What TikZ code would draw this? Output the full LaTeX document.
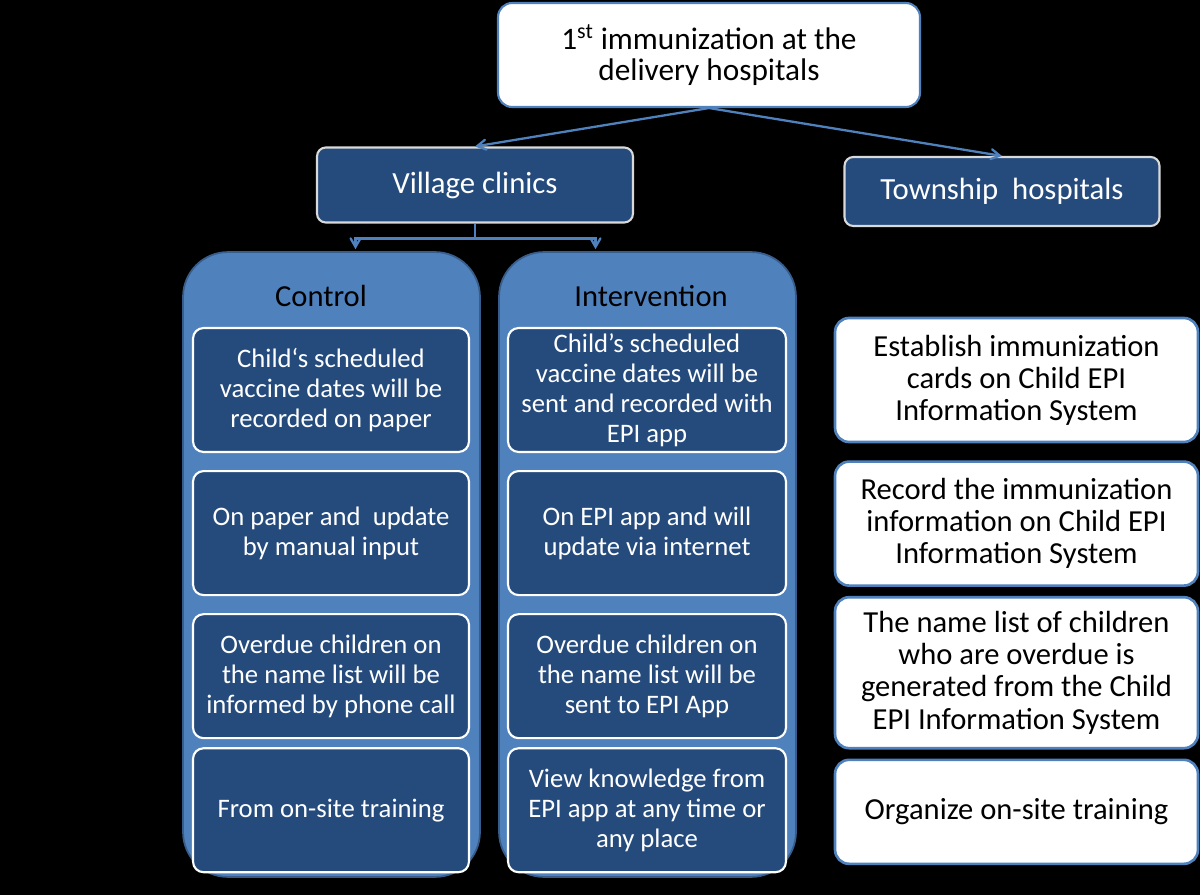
\documentclass[tikz,border=0pt]{standalone}
\usepackage{fontspec}
\setmainfont{Carlito}
\usetikzlibrary{positioning, arrows}
\definecolor{panelblue}{HTML}{4F81BD}
\definecolor{boxblue}{HTML}{254B7D}
\definecolor{edgeblue}{HTML}{385D8A}
\tikzstyle{topbox} = [rectangle, rounded corners=8pt, draw=panelblue, line width=1.2pt, fill=white, align=center, minimum width=8.44cm, minimum height=2.08cm, font=\fontsize{17.8}{17.5}\selectfont]
\tikzstyle{site} = [rectangle, rounded corners=5pt, draw=white!85!black, line width=1.2pt, fill=boxblue, text=white, minimum height=1.5cm, font=\fontsize{17.5}{19}\selectfont]
\tikzstyle{arm} = [rectangle, rounded corners=0.9cm, draw=edgeblue, line width=1pt, fill=panelblue, minimum width=5.94cm, minimum height=12.5cm]
\tikzstyle{armtitle} = [text=black, font=\fontsize{17.4}{19}\selectfont]
\tikzstyle{armstep} = [rectangle, rounded corners=6pt, draw=white, line width=1.2pt, fill=boxblue, text=white, align=center, inner sep=1pt, minimum width=5.52cm, minimum height=2.48cm, font=\fontsize{15.2}{17}\selectfont]
\tikzstyle{township} = [rectangle, rounded corners=8pt, draw=panelblue, line width=1.5pt, fill=white, align=center, inner sep=1pt, minimum width=7.26cm, minimum height=2.48cm, font=\fontsize{17.4}{18.3}\selectfont]
\tikzstyle{arrow} = [panelblue, line width=1.3pt, ->, >=angle 60]

\begin{document}
\begin{tikzpicture}[x=0.02cm, y=-0.02cm]
\fill[black] (0,0) rectangle (1200,895);

\node (top) [topbox] at (709,55)
	{1\textsuperscript{st} immunization at the\\delivery hospitals};
\node (village) [site, minimum width=6.32cm] at (475,185)
	{Village clinics};
\node (township) [site, minimum width=6.3cm, minimum height=1.38cm] at (1002,191.5)
	{Township\ \ hospitals};

% study arms
\node (control) [arm] at (331.5,564.5) {};
\node (intervention) [arm] at (647.5,564.5) {};
\node (ctltitle) [armtitle] at (321,296) {Control};
\node (inttitle) [armtitle] at (651,296) {Intervention};

\node (ctl1) [armstep] at (331,390)
	{Child‘s scheduled\\vaccine dates will be\\recorded on paper};
\node (ctl2) [armstep, below=0.34cm of ctl1]
	{On paper and\ \ update\\by manual input};
\node (ctl3) [armstep, below=0.34cm of ctl2]
	{Overdue children on\\the name list will be\\informed by phone call};
\node (ctl4) [armstep, below=0.16cm of ctl3]
	{From on-site training};

\node (int1) [armstep, minimum width=5.56cm] at (647,390)
	{Child's scheduled\\vaccine dates will be\\sent and recorded with\\EPI app};
\node (int2) [armstep, minimum width=5.56cm, below=0.34cm of int1]
	{On EPI app and will\\update via internet};
\node (int3) [armstep, minimum width=5.56cm, below=0.34cm of int2]
	{Overdue children on\\the name list will be\\sent to EPI App};
\node (int4) [armstep, minimum width=5.56cm, below=0.16cm of int3]
	{View knowledge from\\EPI app at any time or\\any place};

% township hospitals
\node (twn1) [township] at (1016.5,380)
	{Establish immunization\\cards on Child EPI\\Information System};
\node (twn2) [township, below=0.34cm of twn1]
	{Record the immunization\\information on Child EPI\\Information System};
\node (twn3) [township, minimum height=3.02cm, below=0.18cm of twn2]
	{The name list of children\\who are overdue is\\generated from the Child\\EPI Information System};
\node (twn4) [township, minimum height=2.08cm, below=0.18cm of twn3]
	{Organize on-site training};

\draw [arrow] (top.south) -- (village.north);
\draw [arrow] (top.south) -- (township.north);

\coordinate (fork) at ([yshift=-0.3cm]village.south);
\draw [panelblue, line width=1.3pt] (village.south) -- (fork);
\draw [arrow] (fork) -| ([xshift=0.48cm, yshift=0.04cm]control.north);
\draw [arrow] (fork) -| ([xshift=-1.04cm, yshift=0.04cm]intervention.north);

\end{tikzpicture}
\end{document}
